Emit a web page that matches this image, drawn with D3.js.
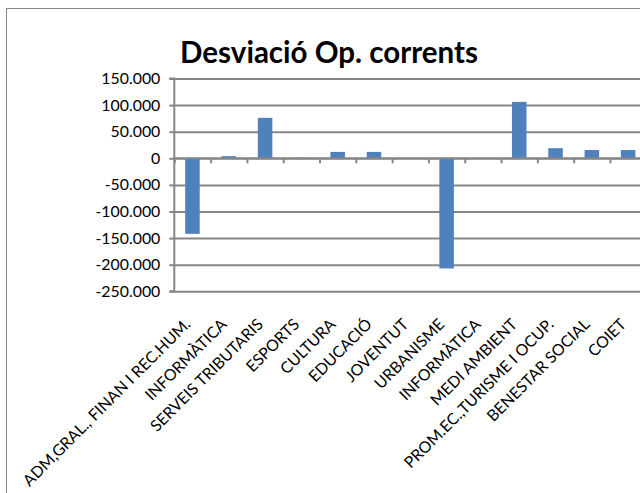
<!DOCTYPE html>
<html>
<head>
<meta charset="utf-8">
<script src="https://cdn.jsdelivr.net/npm/d3@7"></script>
<style>
  body { margin: 0; background: #fff; }
  svg { display: block; font-family: Lato, "Open Sans", sans-serif; }
</style>
</head>
<body>
<svg width="640" height="493"></svg>
<script>
  // dades
  const categories = [
    "ADM,GRAL., FINAN I REC.HUM.", "INFORMÀTICA", "SERVEIS TRIBUTARIS", "ESPORTS",
    "CULTURA", "EDUCACIÓ", "JOVENTUT", "URBANISME", "INFORMÀTICA", "MEDI AMBIENT",
    "PROM.EC.,TURISME I OCUP.", "BENESTAR SOCIAL", "COIET"
  ];
  const values = [-142000, 4000, 76000, 1000, 12000, 12000, 300, -207000, 0, 106000, 19000, 15500, 15500];
  const yTicks = [-250000, -200000, -150000, -100000, -50000, 0, 50000, 100000, 150000];
  const title = "Desviació Op. corrents";

  {
    const svg = d3.select("svg");
    const pLeft = 174.3, pRight = 646.3, pTop = 78.5, pBottom = 291.3;
    const grey = "#878787";

    // Lato és més ample que Calibri: ajusta la mida a l'amplada de l'original
    function fitSize(str, base, weight, target) {
      const t = svg.append("text").attr("font-size", base).attr("font-weight", weight).text(str);
      const w = t.node().getComputedTextLength();
      t.remove();
      return base * target / w;
    }
    const labelSize = fitSize(categories[0], 16, "normal", 229);
    const titleSize = fitSize(title, 28, "bold", 298);

    // format amb punt de milers
    const loc = d3.formatLocale({ decimal: ",", thousands: ".", grouping: [3], currency: ["", "€"], minus: "-" });
    const fmt = loc.format(",d");

    // marc del gràfic
    svg.append("rect")
      .attr("x", 6.5).attr("y", 8.5)
      .attr("width", 640).attr("height", 500)
      .attr("fill", "none").attr("stroke", grey).attr("stroke-width", 1);

    svg.append("text")
      .attr("x", 329).attr("y", 63)
      .attr("text-anchor", "middle")
      .attr("font-size", titleSize).attr("font-weight", "bold")
      .attr("fill", "#000")
      .text(title);

    const x = d3.scaleBand()
      .domain(d3.range(categories.length))
      .range([pLeft, pRight])
      .paddingInner(0.6).paddingOuter(0.3);
    const xb = d3.scaleLinear().domain([0, categories.length]).range([pLeft, pRight]);
    const y = d3.scaleLinear().domain([-250000, 150000]).range([pBottom, pTop]);

    // línies de graella
    const grid = svg.append("g")
      .attr("transform", `translate(${pLeft},0)`)
      .call(d3.axisLeft(y).tickValues(yTicks).tickSize(-(pRight - pLeft)).tickFormat(""));
    grid.select(".domain").remove();
    grid.selectAll("line").attr("stroke", grey).attr("stroke-width", 2);

    // eix vertical
    const ya = svg.append("g")
      .attr("transform", `translate(${pLeft},0)`)
      .call(d3.axisLeft(y).tickValues(yTicks).tickSize(5).tickPadding(9).tickFormat(fmt));
    ya.select(".domain").attr("stroke", grey).attr("stroke-width", 2).attr("d", `M-5,${pTop}H0V${pBottom}H-5`);
    ya.selectAll("line").attr("stroke", grey).attr("stroke-width", 2);
    ya.selectAll("text").attr("font-size", labelSize).attr("fill", "#000").attr("font-family", "Lato");

    // barres
    svg.append("g").selectAll("rect")
      .data(values)
      .join("rect")
      .attr("x", (d, i) => x(i))
      .attr("width", x.bandwidth())
      .attr("y", d => y(Math.max(0, d)))
      .attr("height", d => Math.abs(y(d) - y(0)))
      .attr("fill", "#4f81bd");

    // eix de categories a zero
    const xa = svg.append("g")
      .attr("transform", `translate(0,${y(0)})`)
      .call(d3.axisBottom(xb).tickValues(d3.range(categories.length + 1)).tickSize(5).tickFormat(""));
    xa.select(".domain").attr("stroke", grey).attr("stroke-width", 2).attr("d", `M${pLeft},0H${pRight}`);
    xa.selectAll("line").attr("stroke", grey).attr("stroke-width", 2);

    // etiquetes de categoria, a sota de l'àrea del gràfic
    svg.append("g").selectAll("text")
      .data(categories)
      .join("text")
      .attr("transform", (d, i) => `translate(${x(i) + x.bandwidth() / 2 - 1},${pBottom + 34}) rotate(-45)`)
      .attr("text-anchor", "end")
      .attr("font-size", labelSize)
      .attr("fill", "#000")
      .text(d => d);
  }
</script>
</body>
</html>
